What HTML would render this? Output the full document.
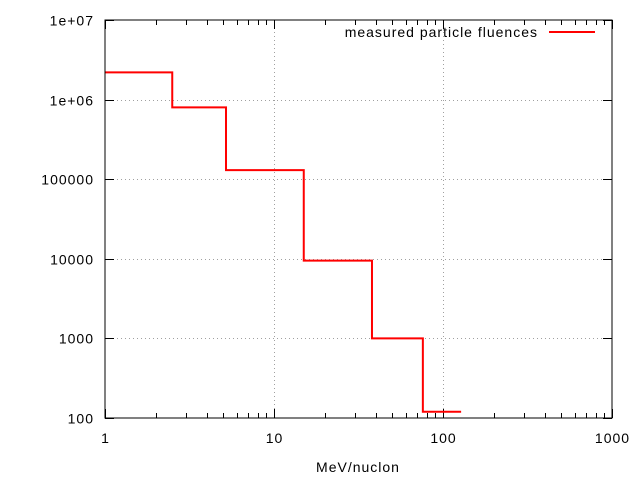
<!DOCTYPE html>
<html><head><meta charset="utf-8"><style>body{margin:0;background:#fff}svg{display:block}text{font-family:"Liberation Sans",sans-serif;font-size:14px;fill:#000;letter-spacing:1px}</style></head>
<body>
<svg id="chart" width="640" height="480" xmlns="http://www.w3.org/2000/svg">
<rect width="640" height="480" fill="#fff"/>
<g id="grid"></g>
<g id="ticks"></g>
<g id="series"></g>
<rect x="105" y="20" width="507" height="398" fill="none" stroke="#000" stroke-width="1"/>
<text x="358" y="472" text-anchor="middle">MeV/nuclon</text>
<g>
<text x="538" y="37" text-anchor="end">measured particle fluences</text>
<line x1="549" y1="32" x2="595" y2="32" stroke="#f00" stroke-width="2"/>
</g>
</svg>
<script>
const binEdges=[1,2.5,5.2,15,38,76,128];
const fluences=[2.2e6,8e5,1.3e5,9.5e3,1000,120];
const xTickVals=[1,10,100,1000];
const xTickLabels=["1","10","100","1000"];
const yTickVals=[100,1000,10000,100000,1e6,1e7];
const yTickLabels=["100","1000","10000","100000","1e+06","1e+07"];
const L=105,R=612,T=20,B=418;
const xs=v=>L+(Math.log10(v)-0)/3*(R-L);
const ys=v=>B-(Math.log10(v)-2)/5*(B-T);
const NS="http://www.w3.org/2000/svg";
function mk(p,tag,a){const e=document.createElementNS(NS,tag);for(const k in a)e.setAttribute(k,a[k]);p.appendChild(e);return e;}
const grid=document.getElementById('grid'),ticks=document.getElementById('ticks'),series=document.getElementById('series');
xTickVals.forEach((v,i)=>{const x=Math.round(xs(v))+0.5;
 if(i>0&&i<xTickVals.length-1){const g=mk(grid,'line',{x1:x,y1:T,x2:x,y2:B,stroke:'#a0a0a0','stroke-dasharray':'1,3'});
 
 }
 const t=mk(ticks,'line',{x1:x,y1:B,x2:x,y2:B-9,stroke:'#000'});
 mk(ticks,'line',{x1:x,y1:T,x2:x,y2:T+9,stroke:'#000'});
 const lb=mk(ticks,'text',{x:x,y:B+25,'text-anchor':'middle'});lb.textContent=xTickLabels[i];
 
 
 if(i<xTickVals.length-1)for(let m=2;m<10;m++){const mx=Math.round(xs(v*m))+0.5;
  mk(ticks,'line',{x1:mx,y1:B,x2:mx,y2:B-5,stroke:'#000'});mk(ticks,'line',{x1:mx,y1:T,x2:mx,y2:T+5,stroke:'#000'});}
});
yTickVals.forEach((v,i)=>{const y=Math.round(ys(v))+0.5;
 if(i>0&&i<yTickVals.length-1){const g=mk(grid,'line',{x1:L,y1:y,x2:R,y2:y,stroke:'#a0a0a0','stroke-dasharray':'1,3'});
 
 }
 mk(ticks,'line',{x1:L,y1:y,x2:L+9,y2:y,stroke:'#000'});mk(ticks,'line',{x1:R,y1:y,x2:R-9,y2:y,stroke:'#000'});
 const lb=mk(ticks,'text',{x:L-11,y:y+5,'text-anchor':'end'});lb.textContent=yTickLabels[i];
 
 
});
let d='';
fluences.forEach((f,i)=>{const x0=xs(binEdges[i]),x1=xs(binEdges[i+1]),y=ys(f);d+=(i===0?'M':'L')+x0+','+y+'L'+x1+','+y;});
const p=mk(series,'path',{d:d,fill:'none',stroke:'#f00','stroke-width':2});


</script>
</body></html>
